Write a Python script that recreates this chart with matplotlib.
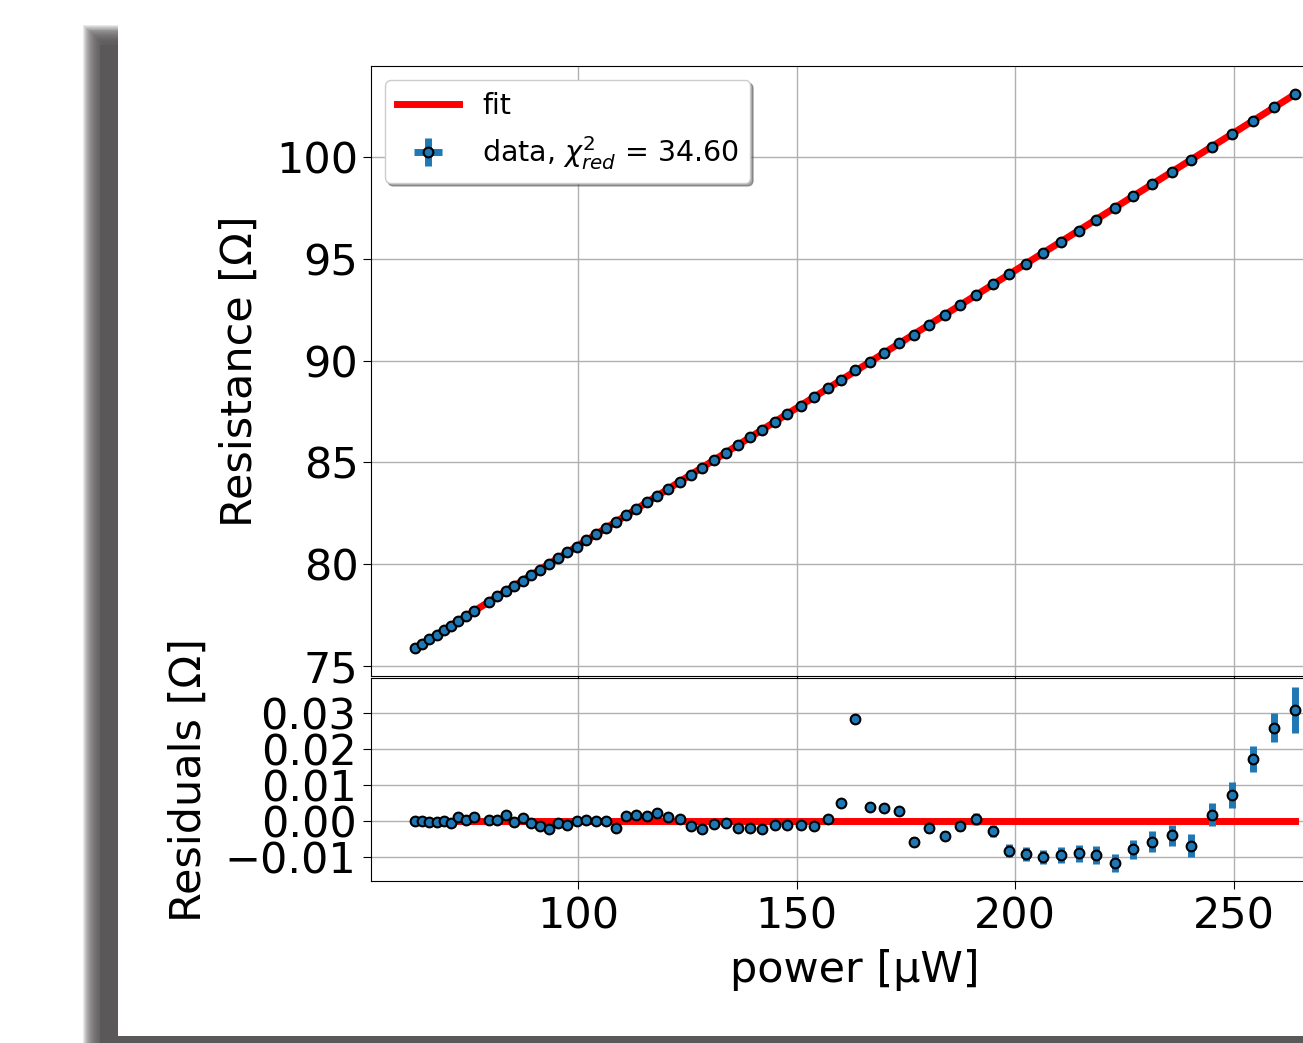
import matplotlib
matplotlib.use('Agg')
import matplotlib.pyplot as plt
from matplotlib.patches import Rectangle
from matplotlib.ticker import MultipleLocator
import numpy as np

# measured power [uW]
POWER = [62.68, 64.22, 65.90, 67.57, 69.17, 70.78, 72.48, 74.38, 76.06,
         79.59, 81.49, 83.39, 85.39, 87.29, 89.22, 91.28, 93.35, 95.41,
         97.48, 99.61, 101.83, 104.13, 106.33, 108.56, 110.92, 113.30,
         115.67, 118.12, 120.64, 123.17, 125.76, 128.28, 130.96, 133.72,
         136.54, 139.29, 142.11, 145.02, 147.84, 150.92, 153.90, 157.11,
         160.23, 163.44, 166.81, 170.02, 173.46, 176.74, 180.28, 183.85,
         187.39, 191.06, 194.95, 198.69, 202.52, 206.42, 210.39, 214.52,
         218.58, 222.84, 227.06, 231.42, 235.85, 240.28, 244.95, 249.61,
         254.36, 259.17, 263.99]

# measured resistance [Ohm]
RESISTANCE = [75.86, 76.07, 76.30, 76.53, 76.74, 76.96, 77.19, 77.45, 77.67,
              78.15, 78.41, 78.66, 78.93, 79.19, 79.45, 79.73, 80.01, 80.29,
              80.57, 80.86, 81.16, 81.47, 81.77, 82.07, 82.39, 82.71, 83.03,
              83.36, 83.70, 84.04, 84.39, 84.73, 85.10, 85.47, 85.85, 86.22,
              86.60, 87.00, 87.38, 87.79, 88.20, 88.63, 89.06, 89.52, 89.95,
              90.38, 90.84, 91.28, 91.76, 92.24, 92.72, 93.22, 93.74, 94.24,
              94.76, 95.29, 95.83, 96.38, 96.93, 97.51, 98.08, 98.67, 99.27,
              99.87, 100.51, 101.14, 101.80, 102.46, 103.11]

# residuals to the linear fit [Ohm]
RESIDUALS = [-0.0001, 0.0000, -0.0002, -0.0004, 0.0000, -0.0005, 0.0011, 0.0002,
             0.0012, 0.0004, 0.0004, 0.0016, -0.0004, 0.0009, -0.0006, -0.0013,
             -0.0022, -0.0006, -0.0011, 0.0001, 0.0003, 0.0001, 0.0001, -0.0019,
             0.0014, 0.0017, 0.0014, 0.0023, 0.0010, 0.0007, -0.0015, -0.0023,
             -0.0007, -0.0006, -0.0020, -0.0019, -0.0021, -0.0010, -0.0011,
             -0.0010, -0.0014, 0.0006, 0.0051, 0.0284, 0.0040, 0.0035, 0.0027,
             -0.0057, -0.0020, -0.0041, -0.0014, 0.0006, -0.0027, -0.0082,
             -0.0091, -0.0100, -0.0094, -0.0090, -0.0095, -0.0116, -0.0079,
             -0.0057, -0.0040, -0.0068, 0.0017, 0.0073, 0.0173, 0.0260, 0.0309]

# uncertainty of resistance [Ohm]
R_ERR = [0.0007, 0.0007, 0.0007, 0.0007, 0.0007, 0.0007, 0.0007, 0.0007, 0.0007,
         0.0007, 0.0008, 0.0008, 0.0008, 0.0008, 0.0008, 0.0008, 0.0008, 0.0008,
         0.0008, 0.0008, 0.0008, 0.0008, 0.0008, 0.0008, 0.0008, 0.0009, 0.0009,
         0.0009, 0.0009, 0.0009, 0.0009, 0.0009, 0.0009, 0.0009, 0.0009, 0.0010,
         0.0010, 0.0010, 0.0010, 0.0010, 0.0010, 0.0010, 0.0011, 0.0011, 0.0011,
         0.0011, 0.0011, 0.0012, 0.0012, 0.0012, 0.0015, 0.0016, 0.0016, 0.0018,
         0.0019, 0.0020, 0.0022, 0.0023, 0.0025, 0.0025, 0.0027, 0.0028, 0.0030,
         0.0031, 0.0032, 0.0036, 0.0037, 0.0040, 0.0063]

P_ERR = 0.05

# linear fit parameters
FIT_OFFSET = 67.39
FIT_SLOPE = 0.1352
CHI2_RED = 34.60

W, H = 1303, 1043


def px_rect(x0, y0, x1, y1, **kw):
    # rectangle given in pixels, origin top-left
    return Rectangle((x0 / W, 1 - y1 / H), (x1 - x0) / W, (y1 - y0) / H, **kw)


def main():
    power = np.array(POWER)
    res = np.array(RESISTANCE)
    resid = np.array(RESIDUALS)
    rerr = np.array(R_ERR)
    fit = FIT_OFFSET + FIT_SLOPE * power

    fig = plt.figure(figsize=(W / 100, H / 100), dpi=100)

    # blurred drop shadow around the figure panel
    for i in range(20):
        fig.patches.append(px_rect(83 + i, 25 + 0.9 * i, W + 50, H + 50,
                                   transform=fig.transFigure, facecolor='#5a5858',
                                   edgecolor='none', alpha=0.13, zorder=-20))
    fig.patches.append(px_rect(100, 45, W + 50, H + 50, transform=fig.transFigure,
                               facecolor='#5a5858', edgecolor='none', zorder=-19))
    fig.patches.append(px_rect(118, -50, W + 50, 1036, transform=fig.transFigure,
                               facecolor='white', edgecolor='none', zorder=-10))

    ax1 = fig.add_axes([371 / W, 1 - 676 / H, 968 / W, 610 / H])
    ax2 = fig.add_axes([371 / W, 1 - 881 / H, 968 / W, 203 / H], sharex=ax1)

    ax1.plot(power, fit, 'r-', lw=5, label='fit')
    ax1.errorbar(power, res, xerr=P_ERR, yerr=rerr, fmt='o', color='C0',
                 mfc='C0', mec='k', mew=1.5, ms=7, elinewidth=5, capsize=0,
                 label=r'data, $\chi_{red}^2$ = %.2f' % CHI2_RED)
    ax1.set_ylabel('Resistance [Ω]', fontsize=31, labelpad=11)
    ax1.yaxis.set_major_locator(MultipleLocator(5))
    ax1.tick_params(labelsize=31, labelbottom=False, length=5.5)
    ax1.grid(True, color='#b0b0b0', lw=1.0)
    ax1.legend(loc='upper left', fontsize=20.5, shadow=True, framealpha=1,
               handlelength=2.2)

    ax2.plot(power, np.zeros_like(power), 'r-', lw=5)
    ax2.errorbar(power, resid, xerr=P_ERR, yerr=rerr, fmt='o', color='C0',
                 mfc='C0', mec='k', mew=1.5, ms=7, elinewidth=5, capsize=0)
    ax2.set_ylabel('Residuals [Ω]', fontsize=31, labelpad=11)
    ax2.set_xlabel('power [µW]', fontsize=31, labelpad=8)
    ax2.xaxis.set_major_locator(MultipleLocator(50))
    ax2.yaxis.set_major_locator(MultipleLocator(0.01))
    ax2.tick_params(labelsize=31, length=5.5, pad=5)
    ax2.grid(True, color='#b0b0b0', lw=1.0)

    fig.savefig('out.png', dpi=100)


if __name__ == '__main__':
    main()
